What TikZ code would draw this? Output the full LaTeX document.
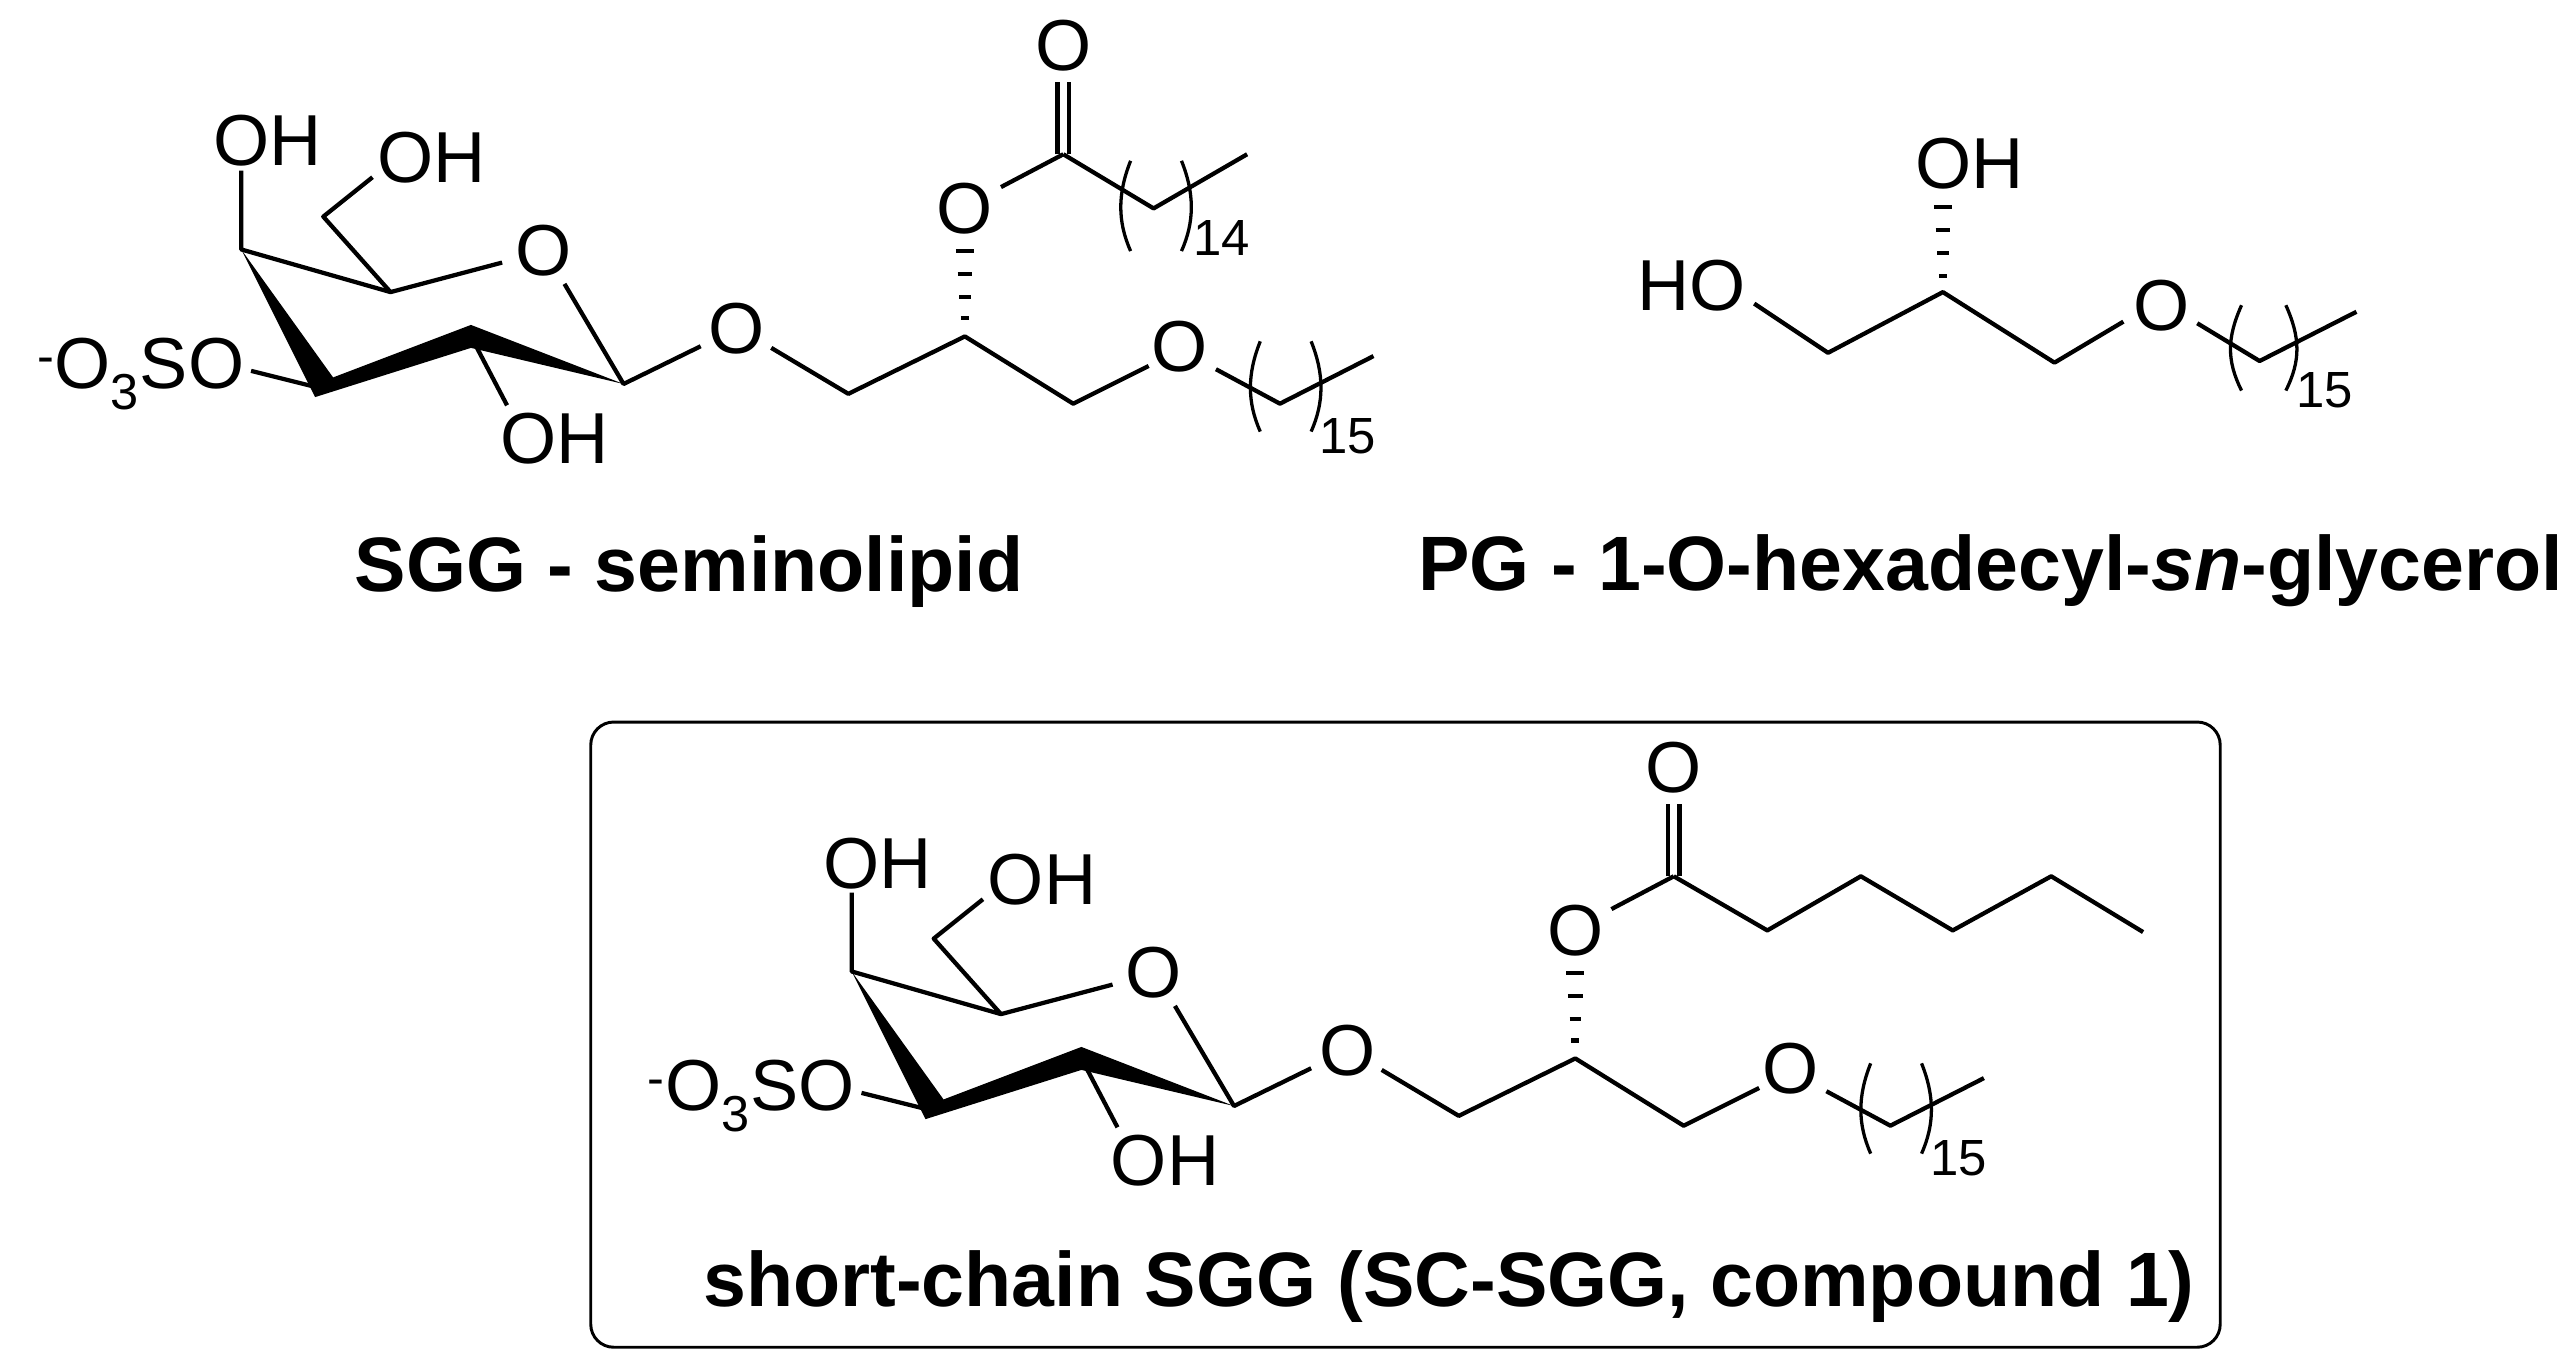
\documentclass[tikz,border=0pt]{standalone}
\usepackage{fontspec}
\setmainfont{Liberation Sans}
\tikzset{
  bond/.style={line width=2.6pt, line join=round},
  atom/.style={inner sep=0pt, font=\fontsize{44}{44}\selectfont},
  sub/.style={inner sep=0pt, font=\fontsize{31}{31}\selectfont},
  title/.style={inner sep=0pt, font=\bfseries\fontsize{47}{47}\selectfont},
  brk/.style={line width=2pt}
}
\newcommand{\sgcore}{%
  % sugar ring
  \coordinate (C4) at (147,152); \coordinate (C5) at (238,178);
  \coordinate (C6) at (197,132); \coordinate (C1) at (380,234);
  \coordinate (C2) at (287,205); \coordinate (C3) at (197,237);
  \node[atom] (o4h) at (163,86) {OH};
  \node[atom] (o6h) at (263,96) {OH};
  \node[atom] (ro) at (331,153) {O};
  \node[atom] (o2h) at (338,267) {OH};
  \node[atom,anchor=east] (so3) at (149,228) {\textsuperscript{-}O\textsubscript{3}SO};
  \node[atom] (go) at (449,200) {O};
  \draw[bond] (147,104) -- (C4) -- (C5) -- (306,160);
  \draw[bond] (C5) -- (C6) -- (227,108);
  \draw[bond] (344,173) -- (C1) -- (427,211);
  \draw[bond] (C2) -- (309,247);
  \draw[bond] (C3) -- (153,226);
  \fill[line join=round] (147,152) -- (192,242) -- (287,212) -- (380,234) -- (287,198) -- (203,230) -- cycle;
  % glycerol
  \coordinate (G1) at (517,240); \coordinate (G2) at (588,205); \coordinate (G3) at (654,246);
  \draw[bond] (470,212) -- (G1) -- (G2) -- (G3) -- (700,223);
  \node[atom] (eo) at (719,211) {O};
  \node[atom] (so) at (588,127) {O};
  \foreach \y/\w in {194/2.5,181/3.5,167/4.5,153/5.5} \draw[line width=2.6pt] (588-\w,\y) -- (588+\w,\y);
  % ether chain
  \draw[bond] (741,225) -- (780,246) -- (837,217);
  \draw[brk] (768,208) .. controls (760,228) and (760,245) .. (768,263);
  \draw[brk] (799,208) .. controls (807,228) and (807,245) .. (799,263);
  \node[sub,anchor=west] at (804,266) {15};
  % ester
  \coordinate (K) at (648,94);
  \draw[bond] (610,114) -- (K);
  \draw[bond] (644.5,94) -- (644.5,50);
  \draw[bond] (651.5,94) -- (651.5,50);
  \node[atom] (co) at (648,28) {O};
}
\begin{document}
\begin{tikzpicture}[x=1pt,y=-1pt]
\useasboundingbox (0,0) rectangle (1568,831);
\fill[white] (0,0) rectangle (1568,831);
% SGG
\sgcore
\draw[bond] (K) -- (703,127) -- (760,94);
\draw[brk] (689,98) .. controls (681,118) and (681,135) .. (689,153);
\draw[brk] (720,98) .. controls (728,118) and (728,135) .. (720,153);
\node[sub,anchor=west] at (727,145) {14};
\node[title] (t1) at (420,348) {SGG - seminolipid};
% PG
\node[atom] (pho) at (1031,174) {HO};
\node[atom] (poh) at (1200,100) {OH};
\node[atom] (po) at (1317,186) {O};
\draw[bond] (1069,185) -- (1114,215) -- (1184,178) -- (1252,221) -- (1294,196);
\foreach \y/\w in {168/2.5,154/3.5,140/4.5,126/5.5} \draw[line width=2.6pt] (1184-\w,\y) -- (1184+\w,\y);
\draw[bond] (1339,197) -- (1377,220) -- (1436,190);
\draw[brk] (1366,186) .. controls (1357,206) and (1357,220) .. (1366,238);
\draw[brk] (1393,186) .. controls (1402,206) and (1402,220) .. (1393,238);
\node[sub,anchor=west] at (1399,238) {15};
\node[title,anchor=east] (t2) at (1562,348) {PG - 1-O-hexadecyl-\textit{sn}-glycerol};
% box
\draw[line width=1.8pt, rounded corners=14pt] (360,440) rectangle (1353,821);
\begin{scope}[shift={(372,440)}]
\sgcore
\draw[bond] (K) -- (705,127) -- (762,94) -- (818,127) -- (878,94) -- (934,128);
\end{scope}
\node[title] (t3) at (883,784) {short-chain SGG (SC-SGG, compound 1)};
\end{tikzpicture}
\end{document}
